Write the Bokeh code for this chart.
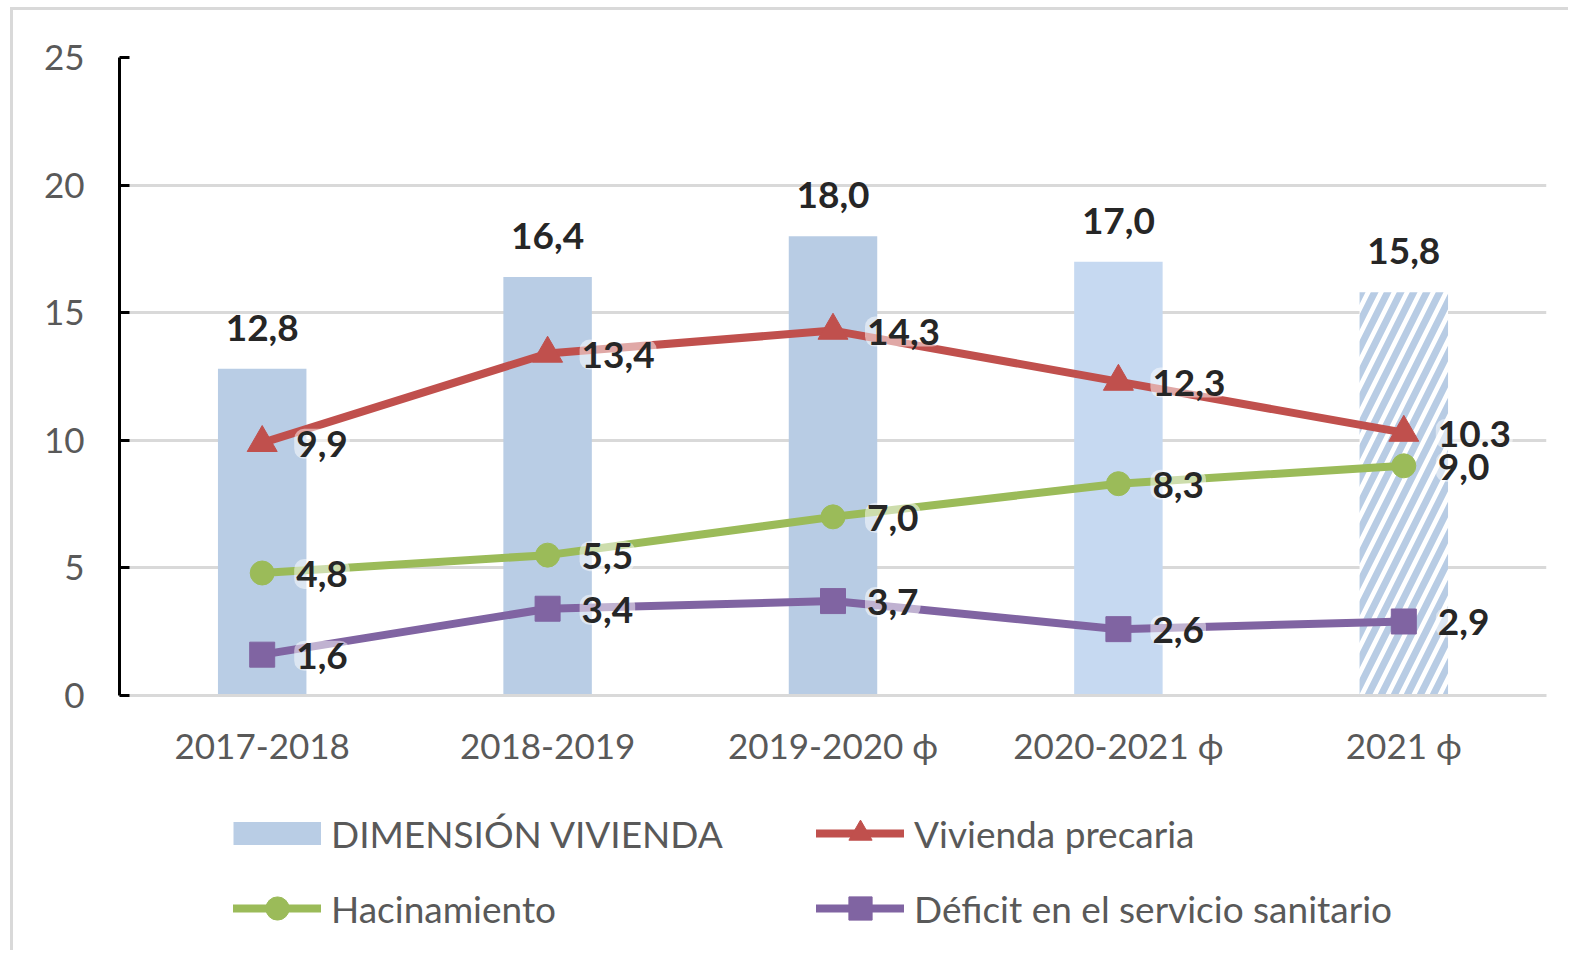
from bokeh.plotting import figure
from bokeh.layouts import column
from bokeh.models import ColumnDataSource, Legend, LegendItem, FixedTicker, Range1d
from bokeh.core.properties import value
from bokeh.embed import file_html
from bokeh.resources import INLINE

# ---------------- data ----------------
categories = ["2017-2018", "2018-2019", "2019-2020 ϕ", "2020-2021 ϕ", "2021 ϕ"]
dimension = [12.8, 16.4, 18.0, 17.0, 15.8]
precaria = [9.9, 13.4, 14.3, 12.3, 10.3]
hacinamiento = [4.8, 5.5, 7.0, 8.3, 9.0]
deficit = [1.6, 3.4, 3.7, 2.6, 2.9]

dimension_labels = ["12,8", "16,4", "18,0", "17,0", "15,8"]
precaria_labels = ["9,9", "13,4", "14,3", "12,3", "10.3"]
hacinamiento_labels = ["4,8", "5,5", "7,0", "8,3", "9,0"]
deficit_labels = ["1,6", "3,4", "3,7", "2,6", "2,9"]

y_ticks = [0, 5, 10, 15, 20, 25]

series_names = ["DIMENSIÓN VIVIENDA", "Vivienda precaria", "Hacinamiento",
                "Déficit en el servicio sanitario"]

# ---------------- styles ----------------
bar_fill = ["#B9CDE5", "#B9CDE5", "#B8CCE4", "#C6D9F1", "white"]
bar_hatch = [" ", " ", " ", " ", "/"]
RED = "#C0504D"
GREEN = "#9BBB59"
PURPLE = "#8064A2"
AXIS_TXT = "#595959"
LABEL_TXT = "#262626"
FONT = "Lato"

p = figure(x_range=categories, y_range=Range1d(0, 25),
           width=1555, height=770,
           output_backend="svg", toolbar_location=None,
           min_border_left=106, min_border_right=22,
           min_border_top=47, min_border_bottom=85)
p.outline_line_color = None
p.background_fill_color = "white"
p.border_fill_color = "white"

# grid
p.xgrid.grid_line_color = None
p.ygrid.grid_line_color = "#D9D9D9"
p.ygrid.grid_line_width = 3
p.ygrid.ticker = FixedTicker(ticks=y_ticks)

# y axis
p.yaxis.ticker = FixedTicker(ticks=y_ticks)
p.yaxis.axis_line_color = "black"
p.yaxis.axis_line_width = 3
p.yaxis.major_tick_line_color = "black"
p.yaxis.major_tick_line_width = 3
p.yaxis.major_tick_in = 10
p.yaxis.major_tick_out = 0
p.yaxis.minor_tick_line_color = None
p.yaxis.major_label_text_font = FONT
p.yaxis.major_label_text_font_size = "35px"
p.yaxis.major_label_text_color = AXIS_TXT
p.yaxis.major_label_standoff = 35

# x axis
p.xaxis.axis_line_color = "#D9D9D9"
p.xaxis.axis_line_width = 3
p.xaxis.major_tick_line_color = None
p.xaxis.minor_tick_line_color = None
p.xaxis.major_label_text_font = FONT
p.xaxis.major_label_text_font_size = "35px"
p.xaxis.major_label_text_color = AXIS_TXT
p.xaxis.major_label_standoff = 22

# bars
bar_src = ColumnDataSource(dict(x=categories, top=dimension, fill=bar_fill,
                                hatch=bar_hatch, lab=dimension_labels))
bars = p.vbar(x="x", top="top", width=0.31, source=bar_src,
              fill_color="fill", line_color=None,
              hatch_pattern="hatch", hatch_color="#B8CCE4",
              hatch_scale=26, hatch_weight=7)

# lines
line_specs = [
    (precaria, precaria_labels, RED, "triangle", 30),
    (hacinamiento, hacinamiento_labels, GREEN, "circle", 24),
    (deficit, deficit_labels, PURPLE, "square", 25),
]
label_sources = []
for vals, labs, col, marker, size in line_specs:
    src = ColumnDataSource(dict(x=categories, y=vals, lab=labs))
    p.line(x="x", y="y", source=src, line_color=col, line_width=8,
           line_join="round", line_cap="round")
    p.scatter(x="x", y="y", source=src, marker=marker, size=size,
              fill_color=col, line_color=col)
    label_sources.append(src)

# data labels
halo = dict(background_fill_color="white", background_fill_alpha=0.5,
            border_radius=10, padding=2)
p.text(x="x", y="top", text="lab", source=bar_src,
       text_font=value(FONT), text_font_style="bold", text_font_size="37px",
       text_color=LABEL_TXT, text_align="center", text_baseline="middle",
       y_offset=-41)
for src in label_sources:
    p.text(x="x", y="y", text="lab", source=src,
           text_font=value(FONT), text_font_style="bold", text_font_size="37px",
           text_color=LABEL_TXT, text_align="left", text_baseline="middle",
           x_offset=32, y_offset=1, **halo)

# ---------------- legend strip (separate canvas below the chart) ----------------
q = figure(width=1555, height=170, x_range=Range1d(0, 1), y_range=Range1d(0, 1),
           output_backend="svg", toolbar_location=None,
           x_axis_location=None, y_axis_location=None,
           min_border=0, min_border_left=0, min_border_right=0,
           min_border_top=0, min_border_bottom=0)
q.outline_line_color = None
q.grid.visible = False
q.border_fill_color = "white"

# legend-only glyphs: one point kept outside the visible range of this strip
hidden = ColumnDataSource(dict(x=[-10], y=[-10]))
sw_bar = q.line(x="x", y="y", source=hidden, line_color=bar_fill[0],
                line_width=23, line_cap="butt")
sw = {}
for name, (vals, labs, col, marker, size) in zip(series_names[1:], line_specs):
    l = q.line(x="x", y="y", source=hidden, line_color=col, line_width=8,
               line_cap="round")
    s = q.scatter(x="x", y="y", source=hidden, marker=marker, size=size,
                  fill_color=col, line_color=col)
    sw[name] = [l, s]

legend_common = dict(glyph_width=88, glyph_height=58, label_standoff=10,
                     spacing=17, padding=0, margin=0,
                     border_line_color=None, background_fill_alpha=0,
                     label_text_font=FONT, label_text_font_size="37px",
                     label_text_color=AXIS_TXT)
leg_left = Legend(items=[
    LegendItem(label=series_names[0], renderers=[sw_bar]),
    LegendItem(label=series_names[2], renderers=sw[series_names[2]]),
], location=(114, 13), **legend_common)
leg_right = Legend(items=[
    LegendItem(label=series_names[1], renderers=sw[series_names[1]]),
    LegendItem(label=series_names[3], renderers=sw[series_names[3]]),
], location=(697, 13), **legend_common)
q.add_layout(leg_left, "center")
q.add_layout(leg_right, "center")

layout = column(p, q, spacing=0, margin=(7, 0, 0, 10),
                styles={"border-top": "3px solid #d9d9d9",
                        "border-left": "3px solid #d9d9d9"})

open("out.html", "w").write(file_html(layout, INLINE))
